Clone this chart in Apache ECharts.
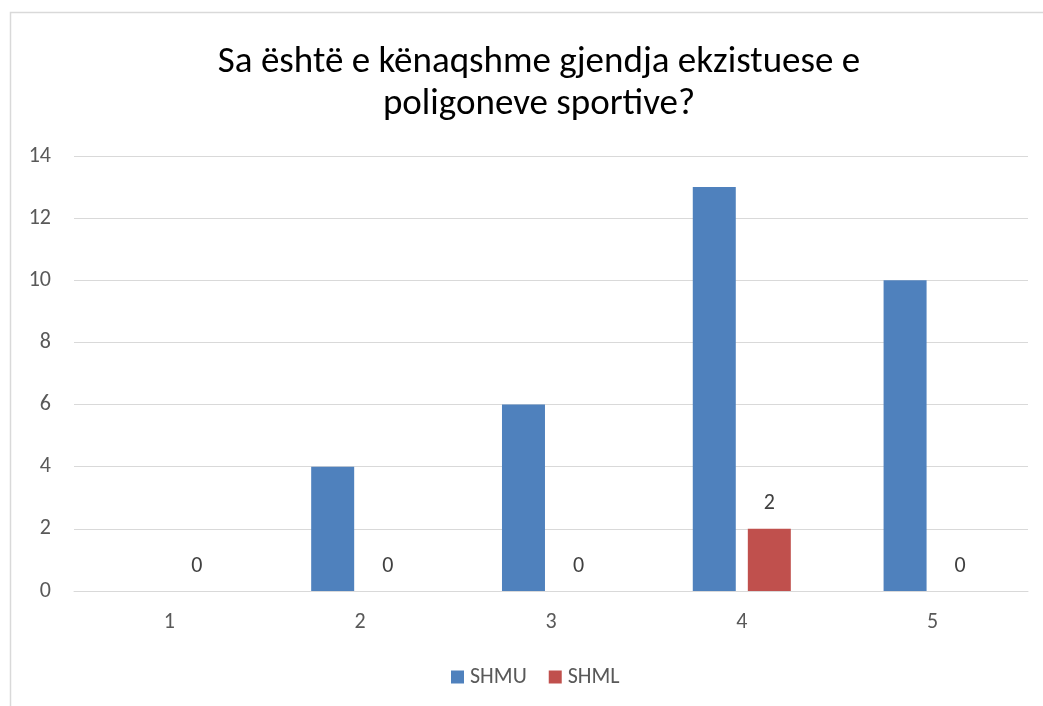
<!DOCTYPE html>
<html><head><meta charset="utf-8">
<script src="https://cdn.jsdelivr.net/npm/echarts@6/dist/echarts.min.js"></script>
<style>html,body{margin:0;padding:0;background:#fff}#c{width:1043px;height:706px}</style>
</head><body><div id="c"></div>
<script>
const categories = ['1','2','3','4','5'];
const shmu = [0, 4, 6, 13, 10];
const shml = [0, 0, 0, 2, 0];
const titleText = 'Sa është e kënaqshme gjendja ekzistuese e\npoligoneve sportive?';
const font = 'Carlito, Lato, "Liberation Sans", sans-serif';
const chart = echarts.init(document.getElementById('c'));
chart.setOption({
  backgroundColor: '#fff',
  animation: false,
  graphic: [{
    type: 'polyline', silent: true,
    shape: { points: [[10.5, 720], [10.5, 12.5], [1060, 12.5]] },
    style: { stroke: '#d9d9d9', lineWidth: 1.5, fill: null }
  }],
  title: {
    text: titleText, left: 534, top: 37, textAlign: 'center',
    textStyle: { fontFamily: font, fontSize: 37, fontWeight: 'normal', color: '#000', lineHeight: 42 }
  },
  legend: {
    data: ['SHMU', 'SHML'], top: 661, left: 446, itemWidth: 13, itemHeight: 13, itemGap: 22,
    icon: 'rect',
    textStyle: { fontFamily: font, fontSize: 22, color: '#595959', padding: [0,0,0,1] }
  },
  grid: { left: 74, right: 15, top: 156, bottom: 115, containLabel: false },
  xAxis: {
    type: 'category', data: categories,
    axisLine: { lineStyle: { color: '#d9d9d9', width: 1 } },
    axisTick: { show: false },
    axisLabel: { fontFamily: font, fontSize: 22, color: '#595959', margin: 20 }
  },
  yAxis: {
    type: 'value', min: 0, max: 14, interval: 2,
    axisLine: { show: false }, axisTick: { show: false },
    splitLine: { lineStyle: { color: '#d9d9d9', width: 1 } },
    axisLabel: { fontFamily: font, fontSize: 22, color: '#595959', margin: 23, align: 'right' }
  },
  series: [
    { name: 'SHMU', type: 'bar', data: shmu, barWidth: 43, barGap: '28%',
      itemStyle: { color: '#4f81bd' } },
    { name: 'SHML', type: 'bar', data: shml, barWidth: 43,
      itemStyle: { color: '#c0504d' },
      label: { show: true, position: 'top', distance: 14, fontFamily: font, fontSize: 22, color: '#404040' } }
  ]
});
</script></body></html>
